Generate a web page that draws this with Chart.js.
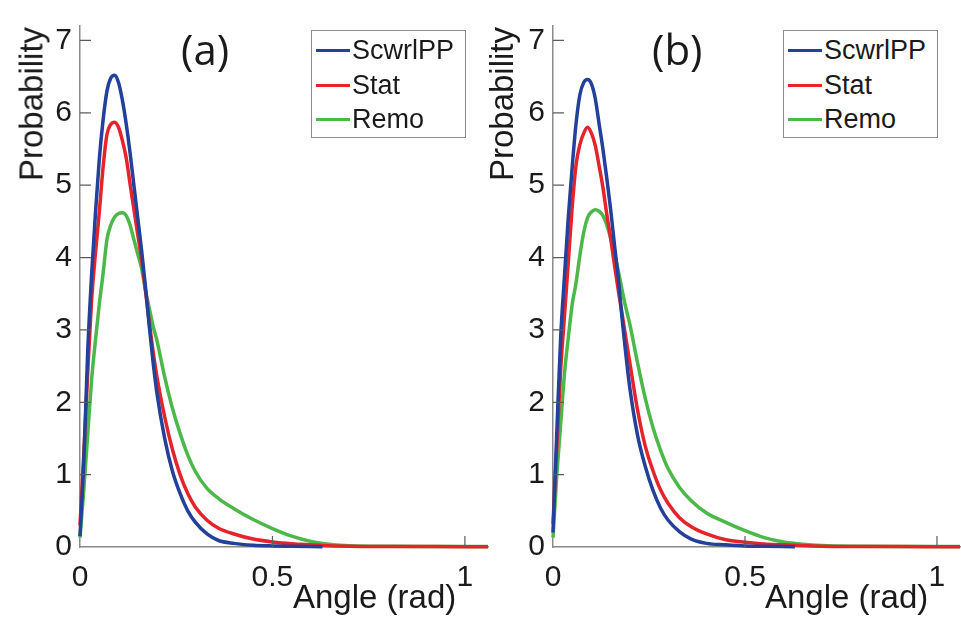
<!DOCTYPE html>
<html lang="en">
<head>
<meta charset="UTF-8">
<title>Angle distributions</title>
<script src="https://cdn.jsdelivr.net/npm/chart.js"></script>
<style>
  body { margin: 0; background: #fff; }
  .fig { position: relative; width: 961px; height: 619px; overflow: hidden;
         font-family: "Liberation Sans", Arial, sans-serif; color: #1a1a1a; }
  .fig canvas { position: absolute; top: 0; }
  .ylab { position: absolute; font-size: 33px; line-height: 1; white-space: nowrap;
          transform: translate(-50%, -50%) rotate(-90deg); }
  .xlab { position: absolute; font-size: 33px; line-height: 1; white-space: nowrap; }
  .tag { position: absolute; font-family: "Open Sans", sans-serif; font-size: 42px; line-height: 1; }
  .legend { position: absolute; top: 30px; width: 153px; height: 106px;
            border: 1px solid #8c8c8c; background: #fff; font-size: 27px; line-height: 1; }
  .legend .swatch { position: absolute; left: 4px; width: 34px; height: 3px; }
  .legend .name { position: absolute; left: 40px; white-space: nowrap; }
</style>
</head>
<body>
<div class="fig" id="fig">
  <canvas id="chartA" width="500" height="619" style="left:0"></canvas>
  <canvas id="chartB" width="481" height="619" style="left:480px"></canvas>

  <div class="ylab" style="left:31px; top:104px">Probability</div>
  <div class="ylab" style="left:501px; top:104px">Probability</div>
  <div class="xlab" style="left:293px; top:580px">Angle (rad)</div>
  <div class="xlab" style="left:765px; top:580px">Angle (rad)</div>
  <div class="tag" style="left:181px; top:28px">(a)</div>
  <div class="tag" style="left:652px; top:28px">(b)</div>
  <div class="legend" id="legendA" style="left:311px"></div>
  <div class="legend" id="legendB" style="left:783px"></div>
</div>

<script>
// angle grid (rad), shared by every series
const angles = [0, 0.01, 0.02, 0.03, 0.04, 0.05, 0.06, 0.07, 0.08, 0.09,
                0.10, 0.11, 0.12, 0.13, 0.14, 0.15, 0.16, 0.17, 0.18, 0.19,
                0.20, 0.22, 0.24, 0.26, 0.28, 0.30, 0.33, 0.36, 0.40, 0.45,
                0.50, 0.55, 0.60, 0.63, 0.70, 0.80, 0.90, 1.00, 1.06];

const seriesNames = ['ScwrlPP', 'Stat', 'Remo'];
const seriesColors = ['#23409a', '#e5232a', '#4cb84a'];

// panel (a)
const scwrlA = [0.15, 1.20, 2.70, 3.75, 4.60, 5.35, 5.90, 6.30, 6.48, 6.52,
                6.42, 6.18, 5.85, 5.45, 5.00, 4.55, 4.10, 3.60, 3.05, 2.55,
                2.12, 1.50, 1.05, 0.74, 0.50, 0.34, 0.18, 0.09, 0.05, 0.025,
                0.015, 0.01, 0.006, 0.004];
const statA  = [0.30, 1.30, 2.40, 3.40, 4.05, 4.62, 5.25, 5.70, 5.84, 5.87,
                5.80, 5.62, 5.38, 5.02, 4.67, 4.32, 3.97, 3.55, 3.10, 2.70,
                2.35, 1.80, 1.35, 1.00, 0.74, 0.55, 0.37, 0.26, 0.18, 0.11,
                0.07, 0.045, 0.03, 0.022, 0.012, 0.008, 0.006, 0.005, 0.005];
const remoA  = [0.13, 0.80, 1.55, 2.30, 2.85, 3.35, 3.78, 4.25, 4.45, 4.56,
                4.61, 4.62, 4.58, 4.45, 4.25, 4.05, 3.85, 3.55, 3.30, 3.05,
                2.85, 2.35, 1.92, 1.57, 1.27, 1.04, 0.81, 0.67, 0.53, 0.38,
                0.255, 0.15, 0.077, 0.05, 0.018, 0.01, 0.008, 0.008, 0.008];

// panel (b)
const scwrlB = [0.20, 1.60, 2.90, 3.75, 4.57, 5.25, 5.85, 6.25, 6.42, 6.46,
                6.40, 6.20, 5.85, 5.50, 5.10, 4.67, 4.18, 3.72, 3.15, 2.65,
                2.20, 1.55, 1.12, 0.79, 0.54, 0.37, 0.21, 0.11, 0.05, 0.03,
                0.015, 0.01, 0.006, 0.004];
const statB  = [0.32, 1.40, 2.45, 3.20, 3.95, 4.70, 5.28, 5.56, 5.72, 5.80,
                5.72, 5.55, 5.27, 4.97, 4.60, 4.27, 3.90, 3.55, 3.22, 2.88,
                2.55, 1.90, 1.40, 1.06, 0.79, 0.60, 0.40, 0.28, 0.18, 0.10,
                0.065, 0.04, 0.03, 0.024, 0.012, 0.008, 0.006, 0.005, 0.005];
const remoB  = [0.13, 1.00, 1.70, 2.40, 2.90, 3.35, 3.65, 4.03, 4.35, 4.55,
                4.63, 4.66, 4.64, 4.58, 4.45, 4.27, 4.05, 3.82, 3.55, 3.30,
                3.08, 2.55, 2.06, 1.66, 1.34, 1.08, 0.82, 0.64, 0.47, 0.34,
                0.225, 0.13, 0.07, 0.05, 0.02, 0.01, 0.008, 0.008, 0.008];

const xTickVals = [0, 0.5, 1];
const yTickVals = [0, 1, 2, 3, 4, 5, 6, 7];

// MATLAB style ticks pointing into the plot
const inwardTicks = {
    id: 'inwardTicks',
    afterDraw(chart) {
        const { ctx, chartArea, scales } = chart;
        ctx.save();
        ctx.strokeStyle = '#5c5c5c';
        ctx.lineWidth = 1.2;
        ctx.beginPath();
        scales.y.ticks.forEach(t => {
            if (t.value === 0) return;
            const py = scales.y.getPixelForValue(t.value);
            ctx.moveTo(chartArea.left, py);
            ctx.lineTo(chartArea.left + 11, py);
        });
        scales.x.ticks.forEach(t => {
            if (t.value === 0) return;
            const px = scales.x.getPixelForValue(t.value);
            ctx.moveTo(px, chartArea.bottom);
            ctx.lineTo(px, chartArea.bottom - 11);
        });
        ctx.stroke();
        ctx.restore();
    }
};

const tickFont = { family: '"Liberation Sans", Arial, sans-serif', size: 30, lineHeight: 1.2 };

function makeChart(id, series, yAxisWidth, padRight) {
    const datasets = series.map((vals, i) => ({
        label: seriesNames[i],
        data: vals.map((y, k) => ({ x: angles[k], y: y })),
        borderColor: seriesColors[i],
        backgroundColor: seriesColors[i],
        borderWidth: 3.5,
        pointRadius: 0,
        cubicInterpolationMode: 'monotone',
        clip: false
    }));

    return new Chart(document.getElementById(id), {
        type: 'line',
        data: { datasets: datasets },
        options: {
            responsive: false,
            animation: false,
            devicePixelRatio: 1,
            layout: { padding: { top: 11, right: padRight, left: 0, bottom: 0 } },
            plugins: { legend: { display: false }, tooltip: { enabled: false } },
            scales: {
                x: {
                    type: 'linear',
                    min: 0,
                    max: 1.06,
                    grid: { display: false, drawTicks: false },
                    border: { display: true, color: '#8a8a8a', width: 1.5 },
                    ticks: { font: tickFont, color: '#1a1a1a', padding: 13, maxRotation: 0,
                             callback: v => String(v) },
                    afterBuildTicks: s => { s.ticks = xTickVals.map(v => ({ value: v })); },
                    afterFit: s => { s.height = 72; }
                },
                y: {
                    min: 0,
                    max: 7.2,
                    grid: { display: false, drawTicks: false },
                    border: { display: true, color: '#8a8a8a', width: 1.5 },
                    ticks: { font: tickFont, color: '#1a1a1a', padding: 8,
                             callback: v => String(v) },
                    afterBuildTicks: s => { s.ticks = yTickVals.map(v => ({ value: v })); },
                    afterFit: s => { s.width = yAxisWidth; }
                }
            }
        },
        plugins: [inwardTicks]
    });
}

makeChart('chartA', [scwrlA, statA, remoA], 80, 12);
makeChart('chartB', [scwrlB, statB, remoB], 73, 1);

// legends
const rowCenters = [19, 54, 88];
['legendA', 'legendB'].forEach(id => {
    const box = document.getElementById(id);
    seriesNames.forEach((name, i) => {
        const sw = document.createElement('div');
        sw.className = 'swatch';
        sw.style.top = (rowCenters[i] - 1.5) + 'px';
        sw.style.background = seriesColors[i];
        box.appendChild(sw);
        const tx = document.createElement('div');
        tx.className = 'name';
        tx.style.top = (rowCenters[i] - 13) + 'px';
        tx.textContent = name;
        box.appendChild(tx);
    });
});
</script>
</body>
</html>
